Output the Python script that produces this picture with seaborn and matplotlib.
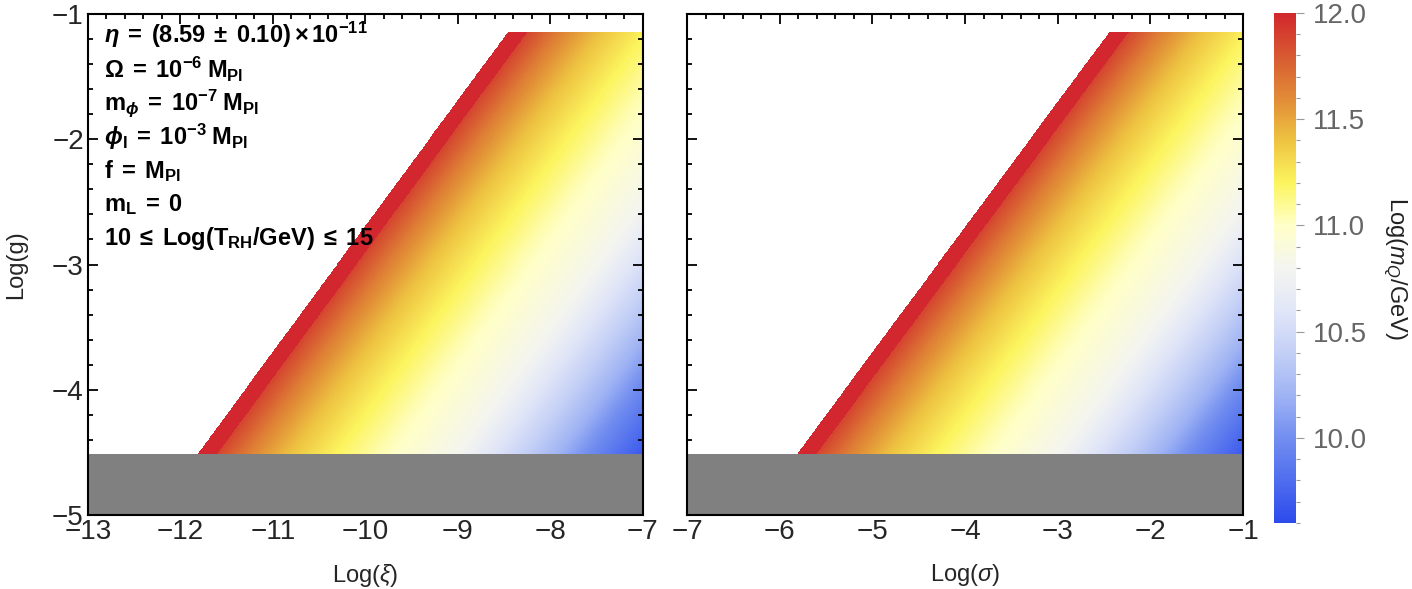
import numpy as np
import matplotlib
matplotlib.use("Agg")
import matplotlib.pyplot as plt
from matplotlib.ticker import MultipleLocator, AutoMinorLocator, FormatStrFormatter
import seaborn as sns

# values
g_limits = [-4.51, -1.15]            # Log(g) range of the coloured region (below: grey band)
xi_edge = [-11.81, -8.46]            # left boundary in Log(xi) at g_limits
sigma_edge = [-5.81, -2.45]          # left boundary in Log(sigma) at g_limits
red_width = 0.21                     # width of the saturated red strip
profile_dist = [0.21, 0.26, 0.55, 1.0, 1.5, 2.0, 2.3, 2.83, 3.19, 3.56, 3.91, 4.21, 4.59, 4.9]
profile_val = [11.88, 11.85, 11.65, 11.4, 11.2, 11.03, 10.95, 10.8, 10.6, 10.4, 10.2, 10.0, 9.8, 9.64]
cbar_ticks = [10.0, 10.5, 11.0, 11.5, 12.0]
# colour bar colours from 9.6 to 12.0 in steps of 0.2
cmap_colors = ["#2d4beb", "#506eee", "#738ff0", "#a0b4f4", "#c3cff6", "#e1e6f8",
               "#f4f5f0", "#ffffc8", "#fcf55f", "#eec341", "#e18c37", "#d85a32",
               "#d2282d"]
info_lines = [
    r"$\mathbfit{\eta}\mathbf{\;=\;(8.59\;\pm\;0.10)\times10^{-11}}$",
    r"$\mathbf{\Omega\;=\;10^{-6}\;M_{Pl}}$",
    r"$\mathbf{m}_{\mathbfit{\phi}}\mathbf{\;=\;10^{-7}\;M_{Pl}}$",
    r"$\mathbfit{\phi}_{\mathbf{I}}\mathbf{\;=\;10^{-3}\;M_{Pl}}$",
    r"$\mathbf{f\;=\;M_{Pl}}$",
    r"$\mathbf{m_L\;=\;0}$",
    r"$\mathbf{10\;\leq\;Log(T_{RH}/GeV)\;\leq\;15}$",
]

sns.set_theme(style="ticks")
plt.rcParams["font.family"] = ["Liberation Sans", "DejaVu Sans"]
plt.rcParams["mathtext.fontset"] = "custom"
plt.rcParams["mathtext.rm"] = "Liberation Sans"
plt.rcParams["mathtext.it"] = "Liberation Sans:italic"
plt.rcParams["mathtext.bf"] = "Liberation Sans:bold"
plt.rcParams["mathtext.bfit"] = "Liberation Sans:italic:bold"

cmap = sns.blend_palette(cmap_colors, as_cmap=True)
cmap.set_over("#d3272f")
cmap.set_bad((1, 1, 1, 0))
vmin, vmax = 9.6, 12.0

fig = plt.figure(figsize=(14.12, 5.89), dpi=100)
ax1 = fig.add_axes([0.0623, 0.1256, 0.393, 0.8506])
ax2 = fig.add_axes([0.4866, 0.1256, 0.3938, 0.8506])
cax = fig.add_axes([0.9023, 0.1121, 0.0156, 0.866])


def draw_panel(ax, xlim, edge, xlabel):
    x = np.linspace(xlim[0], xlim[1], 1400)
    y = np.linspace(-5, -1, 1000)
    X, Y = np.meshgrid(x, y)
    # boundary is a straight line through the two read points
    slope = (edge[1] - edge[0]) / (g_limits[1] - g_limits[0])
    d = X - (edge[0] + slope * (Y - g_limits[0]))
    Z = np.interp(d, profile_dist, profile_val)
    Z[d < red_width] = vmax + 1
    Z[(d < 0) | (Y > g_limits[1]) | (Y < g_limits[0] - 0.03)] = np.nan
    im = ax.imshow(Z, extent=[xlim[0], xlim[1], -5, -1], origin="lower",
                   aspect="auto", cmap=cmap, vmin=vmin, vmax=vmax,
                   interpolation="nearest")
    ax.axhspan(-5, g_limits[0], color="#808080", lw=0)
    ax.set_xlim(xlim)
    ax.set_ylim(-5, -1)
    ax.xaxis.set_major_locator(MultipleLocator(1))
    ax.yaxis.set_major_locator(MultipleLocator(1))
    ax.xaxis.set_minor_locator(AutoMinorLocator(5))
    ax.yaxis.set_minor_locator(AutoMinorLocator(5))
    ax.tick_params(which="both", direction="in", top=True, right=True,
                   color="black", width=1.3)
    ax.tick_params(which="major", length=7, labelsize=20, pad=3)
    ax.tick_params(which="minor", length=3.5)
    for s in ax.spines.values():
        s.set_linewidth(1.5)
        s.set_color("black")
        s.set_zorder(5)
    ax.set_xlabel(xlabel, fontsize=17, labelpad=12)
    return im


im = draw_panel(ax1, (-13, -7), xi_edge, r"Log($\xi$)")
draw_panel(ax2, (-7, -1), sigma_edge, r"Log($\sigma$)")
ax1.set_ylabel("Log(g)", fontsize=17, labelpad=18)
ax2.tick_params(labelleft=False)

for i, line in enumerate(info_lines):
    fig.text(104 / 1412, 1 - (35 + 34 * i) / 589, line, fontsize=17,
             va="center", ha="left", color="black")

cb = fig.colorbar(im, cax=cax)
cb.set_ticks(cbar_ticks)
cb.ax.yaxis.set_major_formatter(FormatStrFormatter("%.1f"))
cb.ax.yaxis.set_minor_locator(MultipleLocator(0.1))
cb.outline.set_visible(False)
cb.ax.tick_params(which="both", color="#999999", labelcolor="#666666",
                  labelsize=20, width=0.8)
cb.ax.tick_params(which="major", length=6, pad=6)
cb.ax.tick_params(which="minor", length=3)
cb.set_label(r"Log($m_Q$/GeV)", fontsize=17, rotation=270, labelpad=30,
             color="#222222")

fig.savefig("out.png", dpi=100)
